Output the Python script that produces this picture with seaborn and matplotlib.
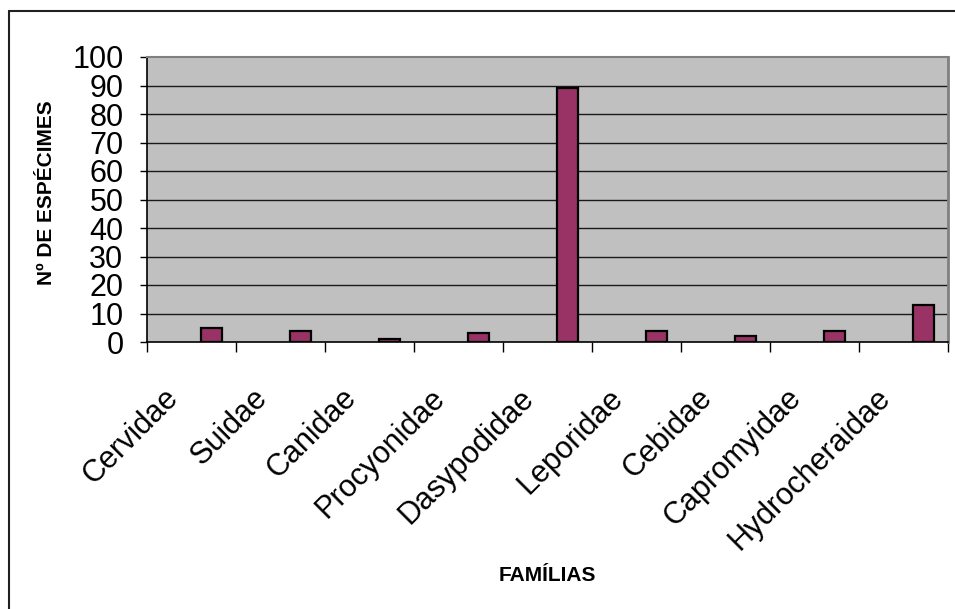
import matplotlib
matplotlib.use("Agg")
import matplotlib.pyplot as plt
from matplotlib.lines import Line2D
import seaborn as sns
import pandas as pd
import numpy as np

# Specimen counts per mammal family
familias = ["Cervidae", "Suidae", "Canidae", "Procyonidae", "Dasypodidae",
            "Leporidae", "Cebidae", "Capromyidae", "Hydrocheraidae"]
especimes = [5, 4, 1, 3, 89, 4, 2, 4, 13]
y_ticks = [0, 10, 20, 30, 40, 50, 60, 70, 80, 90, 100]

df = pd.DataFrame({"familia": familias, "n": especimes})

sns.set_theme(style="white")
plt.rcParams["font.family"] = ["Liberation Sans", "DejaVu Sans"]
plt.rcParams.update({"text.color": "black", "axes.labelcolor": "black",
                     "xtick.color": "black", "ytick.color": "black"})

fig = plt.figure(figsize=(9.55, 6.09), dpi=100)
ax = fig.add_axes([147 / 955, 1 - 342 / 609, 801 / 955, 285 / 609])
ax.set_facecolor("#C0C0C0")

sns.barplot(data=df, x="familia", y="n", order=familias, ax=ax,
            color="#993366", saturation=1, width=0.236,
            edgecolor="black", linewidth=1.6, zorder=3)

# bars sit to the right of the category centre (clustered-column layout)
for p in ax.patches:
    p.set_x(p.get_x() + 0.225)

ax.set_ylim(0, 100)
ax.set_xlim(-0.5, len(familias) - 0.5)

# horizontal gridlines
ax.set_yticks(y_ticks)
ax.set_yticklabels([str(v) for v in y_ticks], fontsize=22)
for v in y_ticks[1:-1]:
    ax.axhline(v, color="#1a1a1a", lw=1.0, zorder=1)

# category boundaries carry the tick marks, centres carry the labels
ax.set_xticks(np.arange(-0.5, len(familias), 1.0))
ax.set_xticklabels([])
ax.set_xticks(np.arange(len(familias)) - 0.2, minor=True)
ax.set_xticklabels(familias, minor=True, fontsize=22, rotation=45,
                   ha="right", va="center", rotation_mode="anchor")
ax.tick_params(axis="x", which="major", direction="out", length=7,
               width=1, color="black", bottom=True)
ax.tick_params(axis="x", which="minor", length=0, pad=37)
ax.tick_params(axis="y", direction="out", length=5, width=1,
               color="black", left=True, pad=12)

for side in ("left", "bottom"):
    ax.spines[side].set_color("black")
    ax.spines[side].set_linewidth(1.2)
ax.spines["top"].set_color("#808080")
ax.spines["top"].set_linewidth(1.5)
ax.spines["right"].set_color("#808080")
ax.spines["right"].set_linewidth(2.0)
for s in ax.spines.values():
    s.set_zorder(4)

ax.set_xlabel("FAMÍLIAS", fontsize=15, fontweight="bold")
ax.xaxis.set_label_coords(0.5, -0.818)
ax.xaxis.label.set_va("center")
ax.set_ylabel("Nº DE ESPÉCIMES", fontsize=15, fontweight="bold")
ax.yaxis.set_label_coords(-0.126, 0.523)
ax.yaxis.label.set_va("center")

# chart frame
fig.add_artist(Line2D([9 / 955, 9 / 955], [0, 1 - 11 / 609],
                      transform=fig.transFigure, color="#202020", lw=1.5))
fig.add_artist(Line2D([9 / 955, 1], [1 - 11 / 609, 1 - 11 / 609],
                      transform=fig.transFigure, color="#202020", lw=1.5))

fig.savefig("out.png", dpi=100, facecolor="white")
